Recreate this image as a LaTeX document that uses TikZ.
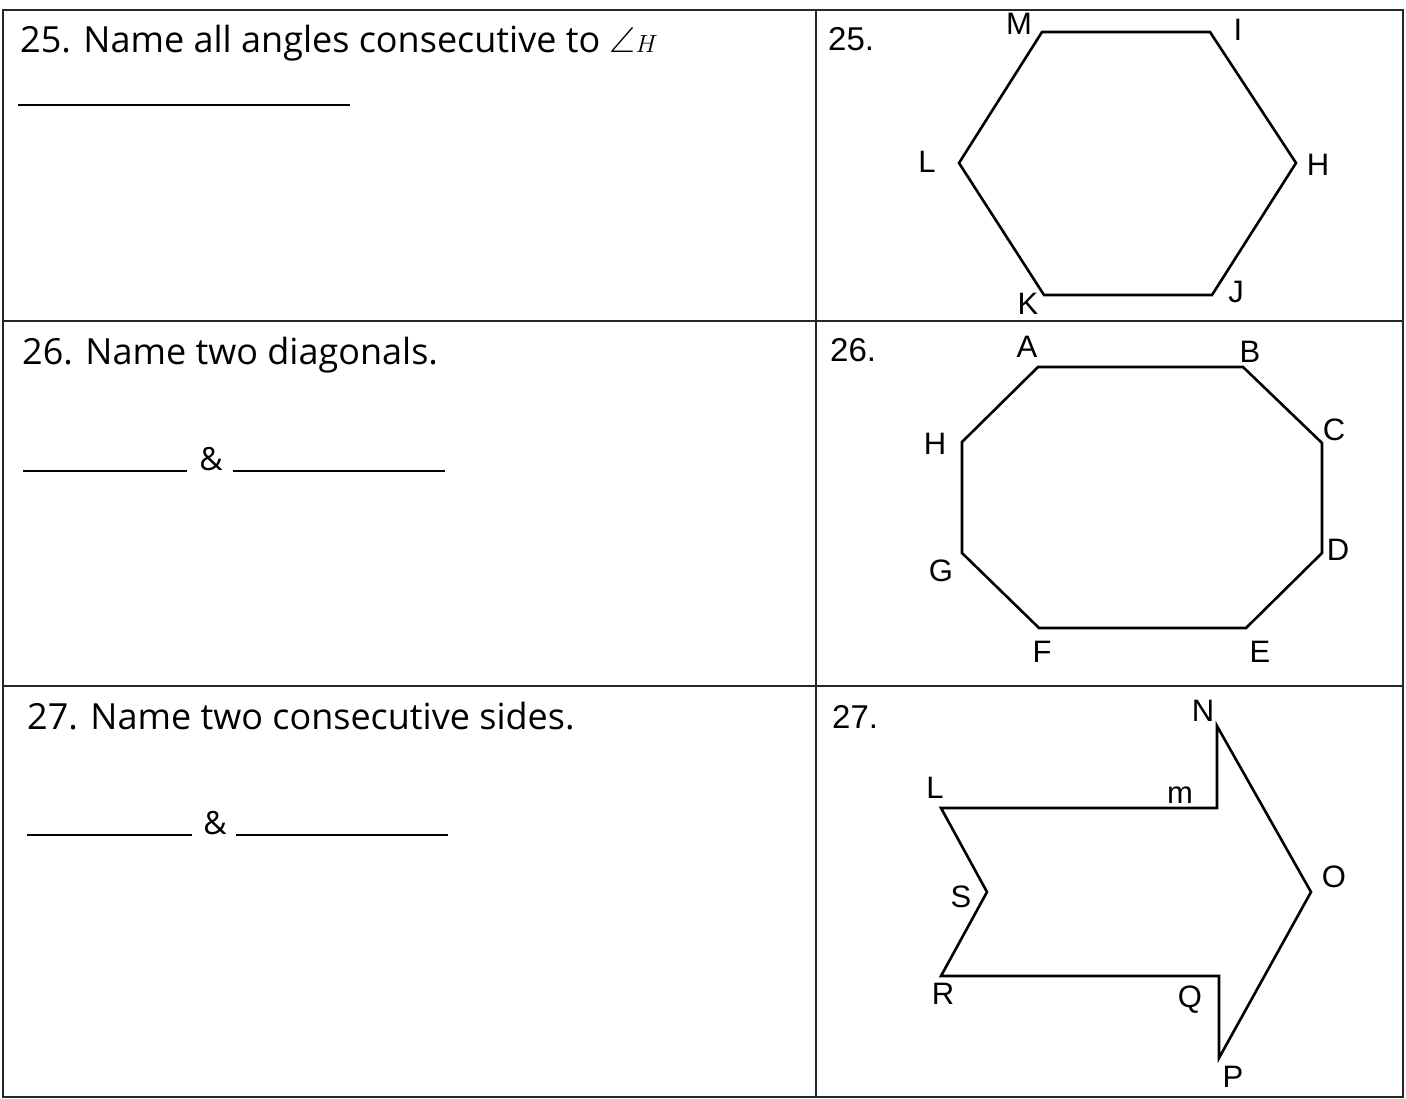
\documentclass[tikz,border=0pt]{standalone}
\usepackage{fontspec}
\usepackage{amssymb}
\newfontfamily\qfont{Open Sans}
\newfontfamily\numfont{Liberation Sans}
\newfontfamily\handfont{Liberation Sans}
\begin{document}
\begin{tikzpicture}[x=1pt,y=-1pt,
  frame/.style={line width=2pt,draw=black!85},
  poly/.style={line width=2.6pt,line join=miter},
  ansline/.style={line width=2.2pt},
  qtext/.style={anchor=base west,inner sep=0pt,font=\qfont\fontsize{36}{36}\selectfont},
  numtext/.style={anchor=base west,inner sep=0pt,font=\numfont\fontsize{33}{33}\selectfont},
  amp/.style={anchor=base,inner sep=0pt,font=\qfont\fontsize{32}{32}\selectfont},
  hand/.style={inner sep=0pt,font=\handfont\fontsize{31}{31}\selectfont}]
\useasboundingbox (0,0) rectangle (1406,1099);
\fill[white] (0,0) rectangle (1406,1099);
% table
\draw[frame] (3,10) rectangle (1403,1097);
\draw[frame] (816,10) -- (816,1097);
\draw[frame] (3,321) -- (1403,321);
\draw[frame] (3,686) -- (1403,686);
% questions
\node[qtext] (q25) at (20,53) {25. Name all angles consecutive to {\fontsize{36}{36}\selectfont$\angle H$}};
\node[qtext] (q26) at (22,364) {26. Name two diagonals.};
\node[qtext] (q27) at (27,729) {27. Name two consecutive sides.};
% answer lines
\coordinate (a1s) at (18,105); \coordinate (a1e) at (350,105);
\draw[ansline] (a1s) -- (a1e);
\coordinate (b1s) at (23,471); \coordinate (b1e) at (187,471);
\coordinate (b2s) at (233,471); \coordinate (b2e) at (445,471);
\draw[ansline] (b1s) -- (b1e); \draw[ansline] (b2s) -- (b2e);
\node[amp] (amp26) at (211,470) {\&};
\coordinate (c1s) at (27,835); \coordinate (c1e) at (192,835);
\coordinate (c2s) at (236,835); \coordinate (c2e) at (448,835);
\draw[ansline] (c1s) -- (c1e); \draw[ansline] (c2s) -- (c2e);
\node[amp] (amp27) at (215,834) {\&};
% numbers right column
\node[numtext] (n25) at (828,51) {25.};
\node[numtext] (n26) at (830,362) {26.};
\node[numtext] (n27) at (832,728) {27.};
% hexagon
\coordinate (hM) at (1042,32); \coordinate (hI) at (1210,32);
\coordinate (hH) at (1296,163); \coordinate (hJ) at (1212,295);
\coordinate (hK) at (1044,295); \coordinate (hL) at (959,163);
\draw[poly] (hM) -- (hI) -- (hH) -- (hJ) -- (hK) -- (hL) -- cycle;
\node[hand] (lM) at (1019,24) {M};
\node[hand] (lI) at (1238,30) {I};
\node[hand] (lH) at (1318,165) {H};
\node[hand] (lL) at (927,162) {L};
\node[hand] (lJ) at (1236,292) {J};
\node[hand] (lK) at (1028,304) {K};
% octagon
\coordinate (oA) at (1038,367); \coordinate (oB) at (1243,367);
\coordinate (oC) at (1322,443); \coordinate (oD) at (1322,553);
\coordinate (oE) at (1246,628); \coordinate (oF) at (1039,628);
\coordinate (oG) at (962,553); \coordinate (oH) at (962,442);
\draw[poly] (oA) -- (oB) -- (oC) -- (oD) -- (oE) -- (oF) -- (oG) -- (oH) -- cycle;
\node[hand] (lA) at (1027,347) {A};
\node[hand] (lB) at (1250,352) {B};
\node[hand] (lC) at (1334,430) {C};
\node[hand] (lD) at (1338,550) {D};
\node[hand] (lE) at (1260,652) {E};
\node[hand] (lF) at (1042,652) {F};
\node[hand] (lG) at (941,571) {G};
\node[hand] (lHo) at (935,444) {H};
% arrow
\coordinate (aL) at (941,808); \coordinate (aM) at (1217,808);
\coordinate (aN) at (1217,726); \coordinate (aO) at (1311,892);
\coordinate (aP) at (1219,1058); \coordinate (aQ) at (1219,976);
\coordinate (aR) at (941,976); \coordinate (aS) at (987,892);
\draw[poly] (aL) -- (aM) -- (aN) -- (aO) -- (aP) -- (aQ) -- (aR) -- (aS) -- cycle;
\node[hand] (lN) at (1203,711) {N};
\node[hand] (lLa) at (935,788) {L};
\node[hand] (lm) at (1180,795) {m};
\node[hand] (lS) at (961,897) {S};
\node[hand] (lO) at (1334,877) {O};
\node[hand] (lR) at (943,994) {R};
\node[hand] (lQ) at (1190,1000) {Q};
\node[hand] (lP) at (1233,1077) {P};
\end{tikzpicture}
\end{document}
